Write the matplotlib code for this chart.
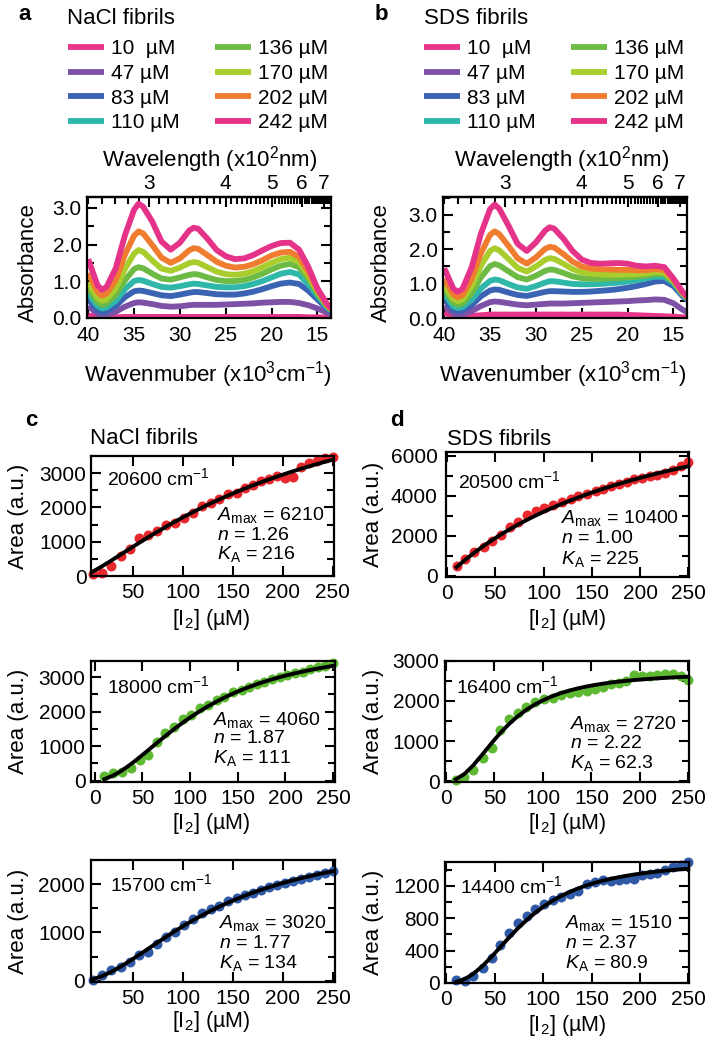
import numpy as np
import matplotlib
matplotlib.use('Agg')
import matplotlib.pyplot as plt
from matplotlib.ticker import MultipleLocator, FixedLocator, FormatStrFormatter

plt.rcParams['font.family'] = ['Liberation Sans', 'DejaVu Sans']
plt.rcParams['mathtext.fontset'] = 'custom'
plt.rcParams['mathtext.rm'] = 'Liberation Sans'
plt.rcParams['mathtext.it'] = 'Liberation Sans:italic'
plt.rcParams['mathtext.bf'] = 'Liberation Sans:bold'

# ---------------- data: spectra ----------------
wavenumber = [40, 39, 38.5, 38, 37, 36, 35, 34.5, 34, 33, 32, 31, 30, 29, 28.5, 28,
              27, 26, 25, 24, 23, 22, 21, 20, 19, 18, 17, 16, 15, 14, 13.5]
conc_labels = ['10  µM', '47 µM', '83 µM', '110 µM', '136 µM', '170 µM', '202 µM', '242 µM']
spec_colors = ['#e6358b', '#7d51a6', '#3b63b4', '#2fb8a9', '#6dbb45', '#a9cd2d', '#f07c30', '#e5338a']

nacl_10 = [0.06, 0.02, 0.01, 0.01, 0.01, 0.02, 0.02, 0.02, 0.02, 0.02, 0.02, 0.02, 0.02, 0.02, 0.02, 0.02,
           0.02, 0.02, 0.02, 0.02, 0.02, 0.02, 0.02, 0.02, 0.02, 0.02, 0.02, 0.01, 0.01, 0.00, 0.00]
nacl_47 = [0.32, 0.11, 0.07, 0.08, 0.16, 0.30, 0.40, 0.42, 0.41, 0.37, 0.32, 0.30, 0.31, 0.34, 0.35, 0.35,
           0.35, 0.35, 0.36, 0.37, 0.38, 0.39, 0.41, 0.42, 0.43, 0.43, 0.40, 0.34, 0.25, 0.14, 0.09]
nacl_83 = [0.50, 0.21, 0.15, 0.17, 0.32, 0.56, 0.72, 0.74, 0.73, 0.67, 0.61, 0.59, 0.63, 0.68, 0.70, 0.70,
           0.67, 0.64, 0.63, 0.63, 0.66, 0.71, 0.78, 0.86, 0.93, 0.96, 0.92, 0.74, 0.50, 0.26, 0.17]
nacl_110 = [0.66, 0.32, 0.25, 0.28, 0.46, 0.78, 1.00, 1.03, 1.01, 0.92, 0.84, 0.82, 0.86, 0.91, 0.93, 0.92,
            0.88, 0.84, 0.83, 0.83, 0.86, 0.92, 1.00, 1.10, 1.20, 1.25, 1.18, 0.92, 0.60, 0.30, 0.19]
nacl_136 = [0.82, 0.43, 0.35, 0.39, 0.62, 1.02, 1.33, 1.38, 1.35, 1.20, 1.07, 1.04, 1.10, 1.17, 1.19, 1.18,
            1.10, 1.03, 1.00, 1.00, 1.03, 1.10, 1.20, 1.32, 1.42, 1.47, 1.38, 1.07, 0.67, 0.33, 0.21]
nacl_170 = [0.97, 0.55, 0.46, 0.51, 0.80, 1.33, 1.75, 1.85, 1.80, 1.56, 1.34, 1.28, 1.37, 1.49, 1.52, 1.50,
            1.38, 1.26, 1.19, 1.17, 1.20, 1.27, 1.38, 1.50, 1.60, 1.64, 1.52, 1.17, 0.72, 0.35, 0.22]
nacl_202 = [1.22, 0.71, 0.60, 0.66, 1.03, 1.72, 2.24, 2.36, 2.30, 1.98, 1.64, 1.50, 1.62, 1.84, 1.90, 1.88,
            1.71, 1.53, 1.42, 1.37, 1.39, 1.46, 1.57, 1.70, 1.78, 1.80, 1.66, 1.26, 0.76, 0.37, 0.23]
nacl_242 = [1.60, 0.89, 0.76, 0.84, 1.35, 2.25, 2.95, 3.12, 3.03, 2.62, 2.08, 1.86, 2.05, 2.38, 2.46, 2.43,
            2.16, 1.85, 1.68, 1.60, 1.62, 1.71, 1.84, 1.96, 2.04, 2.05, 1.86, 1.39, 0.80, 0.39, 0.25]

sds_10 = [0.15, 0.07, 0.05, 0.05, 0.06, 0.08, 0.10, 0.10, 0.10, 0.10, 0.10, 0.10, 0.10, 0.10, 0.10, 0.10,
          0.10, 0.10, 0.10, 0.10, 0.10, 0.10, 0.10, 0.09, 0.08, 0.07, 0.06, 0.05, 0.04, 0.02, 0.02]
sds_47 = [0.35, 0.13, 0.10, 0.11, 0.20, 0.35, 0.46, 0.48, 0.47, 0.43, 0.39, 0.37, 0.39, 0.41, 0.42, 0.42,
          0.42, 0.43, 0.44, 0.45, 0.46, 0.47, 0.48, 0.49, 0.51, 0.52, 0.54, 0.53, 0.43, 0.24, 0.17]
sds_83 = [0.55, 0.24, 0.20, 0.22, 0.38, 0.63, 0.80, 0.83, 0.82, 0.74, 0.67, 0.64, 0.70, 0.76, 0.78, 0.78,
          0.77, 0.76, 0.76, 0.77, 0.79, 0.81, 0.84, 0.88, 0.93, 0.99, 1.06, 1.08, 0.93, 0.64, 0.52]
sds_110 = [0.70, 0.34, 0.29, 0.32, 0.53, 0.86, 1.08, 1.12, 1.10, 0.99, 0.89, 0.85, 0.93, 1.03, 1.07, 1.07,
           1.03, 0.99, 0.98, 0.98, 0.99, 1.01, 1.03, 1.06, 1.10, 1.15, 1.20, 1.20, 1.02, 0.68, 0.56]
sds_136 = [0.84, 0.45, 0.39, 0.43, 0.72, 1.18, 1.51, 1.57, 1.53, 1.36, 1.19, 1.12, 1.23, 1.37, 1.41, 1.40,
           1.31, 1.21, 1.16, 1.14, 1.14, 1.15, 1.16, 1.18, 1.20, 1.23, 1.28, 1.27, 1.06, 0.71, 0.58]
sds_170 = [0.95, 0.55, 0.49, 0.54, 0.92, 1.52, 1.95, 2.03, 1.97, 1.72, 1.46, 1.35, 1.50, 1.69, 1.74, 1.72,
           1.58, 1.42, 1.33, 1.29, 1.27, 1.26, 1.26, 1.27, 1.28, 1.30, 1.34, 1.33, 1.09, 0.73, 0.60]
sds_202 = [1.15, 0.68, 0.60, 0.67, 1.15, 1.88, 2.42, 2.52, 2.44, 2.10, 1.74, 1.58, 1.76, 2.01, 2.07, 2.05,
           1.86, 1.64, 1.50, 1.44, 1.42, 1.41, 1.40, 1.40, 1.39, 1.39, 1.42, 1.40, 1.12, 0.74, 0.61]
sds_242 = [1.45, 0.85, 0.76, 0.85, 1.48, 2.45, 3.17, 3.30, 3.18, 2.69, 2.16, 1.95, 2.20, 2.54, 2.64, 2.60,
           2.31, 1.95, 1.70, 1.60, 1.58, 1.59, 1.60, 1.58, 1.52, 1.50, 1.52, 1.48, 1.15, 0.76, 0.62]

# ---------------- data: titrations ----------------
conc_I2 = [10, 19, 28, 38, 47, 56, 65, 74, 83, 92, 101, 110, 119, 128, 136, 145, 154, 162, 170,
           178, 186, 194, 202, 210, 218, 226, 234, 242, 250]

nacl_20600 = [50, 100, 290, 570, 780, 1110, 1200, 1320, 1500, 1550, 1700, 1840, 2040, 2120, 2240,
              2380, 2430, 2580, 2650, 2770, 2840, 2920, 2870, 2900, 3190, 3290, 3360, 3430, 3480]
nacl_18000 = [136, 232, 261, 360, 600, 746, 1131, 1375, 1567, 1781, 1906, 2100, 2196, 2341, 2437,
              2582, 2631, 2727, 2805, 2872, 2941, 3017, 3066, 3133, 3162, 3230, 3290, 3327, 3405]
nacl_15700 = [14, 118, 221, 290, 393, 531, 600, 759, 897, 1013, 1152, 1269, 1393, 1476, 1545,
              1655, 1703, 1772, 1820, 1889, 1944, 1979, 2014, 2062, 2097, 2151, 2186, 2234, 2275]
sds_20500 = [502, 863, 1185, 1429, 1722, 2049, 2424, 2698, 3024, 3234, 3400, 3561, 3673, 3839, 4000,
             4112, 4244, 4356, 4488, 4600, 4698, 4815, 4893, 4976, 5059, 5137, 5302, 5463, 5707]
sds_16400 = [25, 108, 292, 583, 833, 1275, 1542, 1708, 1858, 1975, 2058, 2083, 2142, 2192, 2225,
             2250, 2308, 2350, 2417, 2442, 2500, 2642, 2608, 2608, 2642, 2667, 2667, 2625, 2525]
sds_14400 = [32, 20, 82, 185, 308, 471, 615, 738, 828, 910, 975, 1025, 1058, 1098, 1139,
             1221, 1250, 1271, 1262, 1279, 1292, 1292, 1332, 1353, 1361, 1394, 1434, 1455, 1496]

# Hill-fit parameters shown in the chart: (Amax, n, KA)
fit_nacl_20600 = (6210, 1.26, 216)
fit_nacl_18000 = (4060, 1.87, 111)
fit_nacl_15700 = (3020, 1.77, 134)
fit_sds_20500 = (10400, 1.00, 225)
fit_sds_16400 = (2720, 2.22, 62.3)
fit_sds_14400 = (1510, 2.37, 80.9)
fit_labels_n = ['1.26', '1.87', '1.77', '1.00', '2.22', '2.37']
fit_labels_A = ['6210', '4060', '3020', '10400', '2720', '1510']
fit_labels_K = ['216', '111', '134', '225', '62.3', '80.9']

# ---------------- figure ----------------
W, H = 708, 1046
fig = plt.figure(figsize=(W / 100, H / 100), dpi=100)


def rect(l, t, r, b):
    return [l / W, 1 - b / H, (r - l) / W, (b - t) / H]


def P(x, y):
    return (x / W, 1 - y / H)


FS = 15
SPW = 1.6


def style_spines(ax):
    for s in ax.spines.values():
        s.set_linewidth(SPW)


def inv(x):
    x = np.asarray(x, float)
    with np.errstate(divide='ignore'):
        return 1e4 / x


def spectra(r, series, ylim, legend_anchor):
    ax = fig.add_axes(rect(*r))
    handles = []
    for vals, col in zip(series, spec_colors):
        ln, = ax.plot(wavenumber, vals, color=col, lw=4.2, solid_capstyle='butt', solid_joinstyle='round')
        handles.append(ln)
    ax.set_xlim(40.1, 13.55)
    ax.set_ylim(*ylim)
    ax.xaxis.set_major_locator(FixedLocator([40, 35, 30, 25, 20, 15]))
    ax.yaxis.set_major_locator(MultipleLocator(1))
    ax.yaxis.set_minor_locator(MultipleLocator(0.5))
    ax.yaxis.set_major_formatter(FormatStrFormatter('%.1f'))
    ax.tick_params(which='both', direction='in', top=False, right=True, width=1.5, labelsize=FS)
    ax.tick_params(which='major', length=7)
    ax.tick_params(which='minor', length=5)
    ax.tick_params(axis='x', pad=6)
    ax.tick_params(axis='y', pad=4)
    style_spines(ax)
    sec = ax.secondary_xaxis('top', functions=(inv, inv))
    sec.xaxis.set_major_locator(FixedLocator([300, 400, 500, 600, 700]))
    sec.set_xticklabels(['3', '4', '5', '6', '7'])
    sec.xaxis.set_minor_locator(FixedLocator(np.arange(250, 750, 10)))
    sec.tick_params(which='both', direction='in', width=1.5, labelsize=FS, pad=3)
    sec.tick_params(which='major', length=7)
    sec.tick_params(which='minor', length=5)
    sec.spines['top'].set_linewidth(SPW)
    leg = ax.legend(handles, conc_labels, ncol=2, loc='upper left',
                    bbox_to_anchor=P(*legend_anchor), bbox_transform=fig.transFigure,
                    frameon=False, fontsize=FS, handlelength=1.75, handletextpad=0.3,
                    columnspacing=1.7, labelspacing=0.28, borderpad=0, borderaxespad=0)
    for h in leg.get_lines():
        h.set_linewidth(4.2)
    return ax


spectra((87.3, 197, 330.7, 318),
        [nacl_10, nacl_47, nacl_83, nacl_110, nacl_136, nacl_170, nacl_202, nacl_242],
        (-0.01, 3.3), (68, 39))
spectra((443.3, 197, 686.7, 318),
        [sds_10, sds_47, sds_83, sds_110, sds_136, sds_170, sds_202, sds_242],
        (0.0, 3.52), (424, 39))


def titration(r, ys, col, params, xlim, ylim, ymaj, ymin, xticks, ypad):
    ax = fig.add_axes(rect(*r))
    ax.plot(conc_I2, ys, 'o', color=col, ms=7.2, mec='none', zorder=2, clip_on=False)
    Amax, n, K = params
    c = np.asarray(conc_I2, float)
    ax.plot(c, Amax * c ** n / (K ** n + c ** n), color='black', lw=2.8, zorder=3, clip_on=False)
    ax.set_xlim(*xlim)
    ax.set_ylim(*ylim)
    ax.xaxis.set_major_locator(FixedLocator(xticks))
    ax.yaxis.set_major_locator(MultipleLocator(ymaj))
    ax.yaxis.set_minor_locator(MultipleLocator(ymin))
    ax.tick_params(which='both', direction='in', top=True, right=True, width=1.5, labelsize=FS)
    ax.tick_params(which='major', length=7)
    ax.tick_params(which='minor', length=5)
    ax.tick_params(axis='x', pad=5)
    ax.tick_params(axis='y', pad=ypad)
    style_spines(ax)
    return ax


ax_c1 = titration((90.7, 456, 334, 576), nacl_20600, '#e8282c', fit_nacl_20600,
                  (8, 251.5), (0, 3500), 1000, 500, [50, 100, 150, 200, 250], 3)
ax_d1 = titration((446, 451.7, 689.3, 577), sds_20500, '#e8282c', fit_sds_20500,
                  (-1, 251), (-50, 6200), 2000, 1000, [0, 50, 100, 150, 200, 250], 6)
ax_c2 = titration((91, 660.7, 335, 781.7), nacl_18000, '#5db931', fit_nacl_18000,
                  (-4, 252), (-30, 3480), 1000, 500, [0, 50, 100, 150, 200, 250], 4)
ax_d2 = titration((445, 660.7, 689.3, 781.7), sds_16400, '#5db931', fit_sds_16400,
                  (-1, 251), (-10, 3000), 1000, 500, [0, 50, 100, 150, 200, 250], 4)
ax_c3 = titration((90.7, 860, 335, 981.7), nacl_15700, '#305aa8', fit_nacl_15700,
                  (8, 252), (-20, 2500), 1000, 500, [50, 100, 150, 200, 250], 4)
ax_d3 = titration((445.3, 861.7, 689.3, 983.3), sds_14400, '#305aa8', fit_sds_14400,
                  (-1, 251), (-5, 1500), 400, 200, [0, 50, 100, 150, 200, 250], 4)

# ---------------- texts ----------------
def T(x, y, s, **kw):
    kw.setdefault('fontsize', FS)
    fig.text(*P(x, y), s, **kw)


# panel letters and titles
T(18, 20, 'a', fontweight='bold', fontsize=16, va='baseline')
T(67, 24, 'NaCl fibrils', fontsize=16, va='baseline')
T(375, 20, 'b', fontweight='bold', fontsize=16, va='baseline')
T(424, 24, 'SDS fibrils', fontsize=16, va='baseline')
T(25, 426, 'c', fontweight='bold', fontsize=16, va='baseline')
T(90, 444, 'NaCl fibrils', fontsize=16, va='baseline')
T(390, 426, 'd', fontweight='bold', fontsize=16, va='baseline')
T(447, 445, 'SDS fibrils', fontsize=16, va='baseline')

# spectra axis labels
T(210, 160, 'Wavelength (x10$^2$nm)', ha='center', va='center', fontsize=16)
T(562, 160, 'Wavelength (x10$^2$nm)', ha='center', va='center', fontsize=16)
T(208, 375, 'Wavenmuber (x10$^3$cm$^{-1}$)', ha='center', va='center', fontsize=16)
T(563, 375, 'Wavenumber (x10$^3$cm$^{-1}$)', ha='center', va='center', fontsize=16)
T(28, 263, 'Absorbance', ha='center', va='center', rotation=90, fontsize=16)
T(381, 263, 'Absorbance', ha='center', va='center', rotation=90, fontsize=16)

# titration axis labels
for yc in (516, 721, 921):
    T(19, yc, 'Area (a.u.)', ha='center', va='center', rotation=90, fontsize=16)
for yc in (514, 721, 922):
    T(374, yc, 'Area (a.u.)', ha='center', va='center', rotation=90, fontsize=16)
for (xc, yc) in ((211, 619), (567, 619), (211, 823), (567, 823), (211, 1022), (567, 1026)):
    T(xc, yc, '[I$_2$] (µM)', ha='center', va='center', fontsize=15.5)

# annotations
ann = [
    (107, 485, '20600', 217, (520, 540, 558.5), 0),
    (458, 488, '20500', 561, (523, 543, 564), 3),
    (107, 693, '18000', 213, (725, 743, 763), 1),
    (456, 693, '16400', 570, (729, 748, 768), 4),
    (110, 891.5, '15700', 219, (928, 948, 968), 2),
    (460, 893, '14400', 565, (928, 948, 968), 5),
]
AFS = 14
for (wx, wy, wn, px, (y1, y2, y3), i) in ann:
    T(wx, wy, wn + ' cm$^{-1}$', fontsize=AFS, va='baseline')
    T(px, y1, r'$\mathit{A}_{\mathrm{max}}$ = ' + fit_labels_A[i], fontsize=AFS, va='baseline')
    T(px, y2, r'$\mathit{n}$ = ' + fit_labels_n[i], fontsize=AFS, va='baseline')
    T(px, y3, r'$\mathit{K}_{\mathrm{A}}$ = ' + fit_labels_K[i], fontsize=AFS, va='baseline')

fig.savefig('out.png', dpi=100)
